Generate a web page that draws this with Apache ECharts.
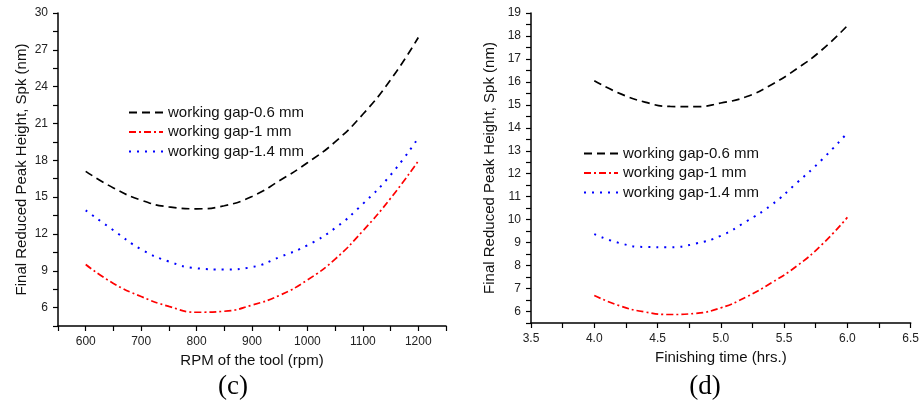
<!DOCTYPE html>
<html>
<head>
<meta charset="utf-8">
<script src="https://cdn.jsdelivr.net/npm/echarts@6/dist/echarts.min.js"></script>
<style>
  html, body { margin: 0; padding: 0; background: #ffffff; }
  #chart { width: 922px; height: 404px; }
</style>
</head>
<body>
<div id="chart"></div>
<script>
// Panel (c): final reduced peak height vs. tool speed
const rpm = [600, 650, 700, 750, 800, 850, 900, 950, 1000, 1050, 1100, 1150, 1200];
const spkRpmGap06 = [17.1, 15.75, 14.75, 14.2, 14.05, 14.3, 15.05, 16.35, 17.8, 19.5, 21.75, 24.55, 28.0];
const spkRpmGap10 = [9.51, 7.97, 6.9, 6.1, 5.62, 5.7, 6.2, 7.0, 8.25, 9.95, 12.25, 14.9, 17.94];
const spkRpmGap14 = [13.92, 12.3, 10.75, 9.75, 9.2, 9.1, 9.3, 10.12, 11.08, 12.48, 14.45, 16.8, 19.82];

// Panel (d): final reduced peak height vs. finishing time
const hours = [4.0, 4.2, 4.4, 4.6, 4.8, 5.0, 5.2, 5.4, 5.6, 5.8, 6.0];
const spkTimeGap06 = [16.05, 15.5, 15.12, 14.93, 14.92, 15.08, 15.35, 15.88, 16.57, 17.4, 18.45];
const spkTimeGap10 = [6.7, 6.25, 5.98, 5.87, 5.92, 6.16, 6.63, 7.25, 7.98, 8.92, 10.1];
const spkTimeGap14 = [9.37, 8.98, 8.81, 8.8, 8.96, 9.3, 9.92, 10.64, 11.6, 12.62, 13.78];

const seriesNames = ['working gap-0.6 mm', 'working gap-1 mm', 'working gap-1.4 mm'];
const panelLabels = ['(c)', '(d)'];
const xAxisNames = ['RPM of the tool (rpm)', 'Finishing time (hrs.)'];
const yAxisName = 'Final Reduced Peak Height, Spk (nm)';

const FONT = '"Liberation Sans", Arial, sans-serif';
const lineStyles = [
  { color: '#000000', type: [8, 5], width: 1.7 },
  { color: '#ff0000', type: [7, 3, 2, 3], width: 1.7 },
  { color: '#0000ff', type: [2, 6], width: 2 }
];

function pairs(xs, ys) { return xs.map((x, i) => [x, ys[i]]); }
function isMultiple(v, step) { const q = v / step; return Math.abs(q - Math.round(q)) < 1e-6; }

function makeSeries(name, idx, axisIdx, data) {
  return {
    name: name,
    type: 'line',
    xAxisIndex: axisIdx,
    yAxisIndex: axisIdx,
    data: data,
    smooth: true,
    symbol: 'none',
    showSymbol: false,
    lineStyle: lineStyles[idx],
    itemStyle: { color: lineStyles[idx].color },
    z: 3
  };
}

const axisCommon = {
  type: 'value',
  splitLine: { show: false },
  axisLine: { show: true, onZero: false, lineStyle: { color: '#000', width: 1.5 } },
  axisTick: { show: true, inside: false, length: 5, lineStyle: { color: '#000', width: 1.2 } },
  nameLocation: 'middle',
  nameTextStyle: { fontFamily: FONT, fontSize: 15, color: '#111' }
};
const labelCommon = { fontFamily: FONT, fontSize: 12, color: '#222', margin: 10, showMinLabel: true, showMaxLabel: true };

// Legend keys show only the dashed stroke, no marker
const legendCommon = {
  orient: 'vertical',
  data: seriesNames,
  itemWidth: 34,
  itemHeight: 14,
  itemGap: 4.5,
  selectedMode: false,
  itemStyle: { opacity: 0 },
  lineStyle: { opacity: 1 },
  textStyle: { fontFamily: FONT, fontSize: 15, color: '#111' }
};

const serifTitle = { fontFamily: '"Liberation Serif", "Times New Roman", serif', fontSize: 27, fontWeight: 'normal', color: '#000' };

const option = {
  backgroundColor: '#ffffff',
  animation: false,
  title: [
    { text: panelLabels[0], left: 228, top: 368, textAlign: 'center', textStyle: serifTitle },
    { text: panelLabels[1], left: 700, top: 368, textAlign: 'center', textStyle: serifTitle }
  ],
  legend: [
    Object.assign({ left: 123, top: 100 }, legendCommon),
    Object.assign({ left: 578, top: 141 }, legendCommon)
  ],
  grid: [
    { left: 58, top: 13, width: 388, height: 313 },
    { left: 531, top: 13, width: 383, height: 310 }
  ],
  xAxis: [
    Object.assign({}, axisCommon, {
      gridIndex: 0, min: 550, max: 1250, interval: 50,
      name: xAxisNames[0], nameGap: 25,
      axisLabel: Object.assign({}, labelCommon, { formatter: v => isMultiple(v, 100) ? String(v) : '' })
    }),
    Object.assign({}, axisCommon, {
      gridIndex: 1, min: 3.5, max: 6.5, interval: 0.25,
      name: xAxisNames[1], nameGap: 23,
      axisLabel: Object.assign({}, labelCommon, { formatter: v => isMultiple(v, 0.5) ? v.toFixed(1) : '' })
    })
  ],
  yAxis: [
    Object.assign({}, axisCommon, {
      gridIndex: 0, min: 4.5, max: 30, interval: 1.5,
      name: yAxisName, nameGap: 29,
      axisLabel: Object.assign({}, labelCommon, { formatter: v => isMultiple(v, 3) ? String(Math.round(v)) : '' })
    }),
    Object.assign({}, axisCommon, {
      gridIndex: 1, min: 5.5, max: 19, interval: 0.5,
      name: yAxisName, nameGap: 34,
      axisLabel: Object.assign({}, labelCommon, { formatter: v => isMultiple(v, 1) ? String(Math.round(v)) : '' })
    })
  ],
  series: [
    makeSeries(seriesNames[0], 0, 0, pairs(rpm, spkRpmGap06)),
    makeSeries(seriesNames[1], 1, 0, pairs(rpm, spkRpmGap10)),
    makeSeries(seriesNames[2], 2, 0, pairs(rpm, spkRpmGap14)),
    makeSeries(seriesNames[0], 0, 1, pairs(hours, spkTimeGap06)),
    makeSeries(seriesNames[1], 1, 1, pairs(hours, spkTimeGap10)),
    makeSeries(seriesNames[2], 2, 1, pairs(hours, spkTimeGap14))
  ]
};

const chart = echarts.init(document.getElementById('chart'), null, { renderer: 'canvas' });
chart.setOption(option);
</script>
</body>
</html>
